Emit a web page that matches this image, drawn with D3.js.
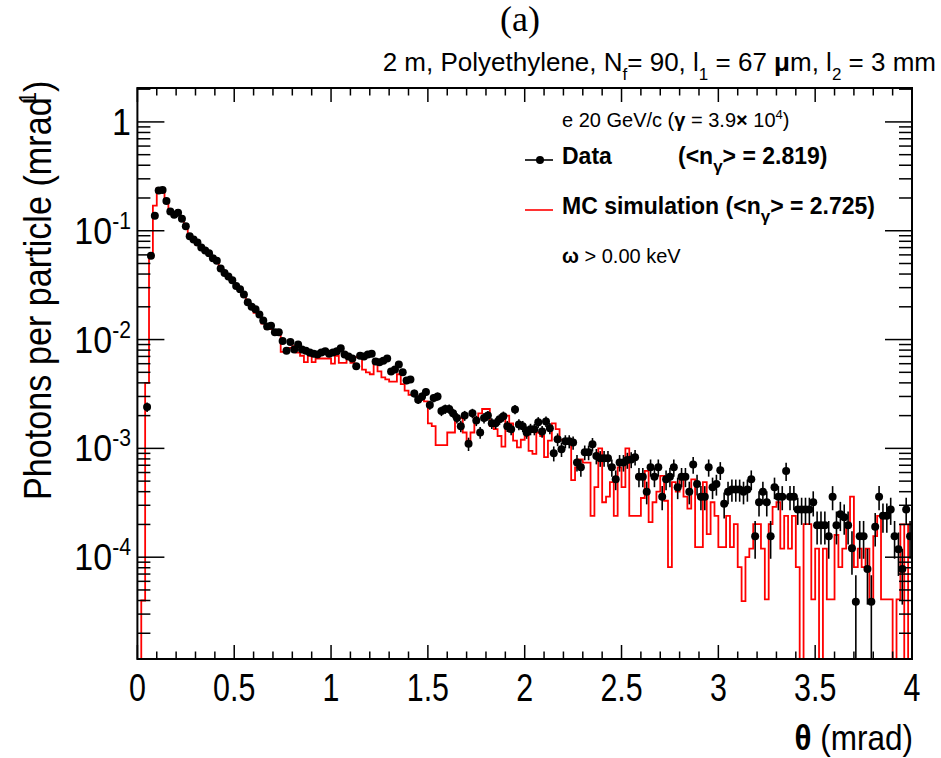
<!DOCTYPE html>
<html><head><meta charset="utf-8">
<script src="https://cdn.jsdelivr.net/npm/d3@7/dist/d3.min.js"></script>
<style>
body{margin:0;background:#fff}
svg{display:block}
text{font-family:"Liberation Sans",Arial,Helvetica,sans-serif;fill:#000}
</style>
</head><body>
<svg id="chart" width="941" height="758"></svg>
<script>
// ---------------- DATA ----------------
const binWidth = 0.02;            // mrad
const thetaRange = [0, 4];        // mrad
const yRange = [1.16e-5, 2.05];

// Data: photons per particle (mrad^-1), 200 bins of 0.02 mrad
const dataValues = [
0,0,0.0024,0.059,0.137,0.234,0.237,0.188,0.150,0.140,
0.146,0.129,0.110,0.089,0.083,0.078,0.070,0.066,0.062,0.056,
0.053,0.045,0.041,0.038,0.035,0.031,0.029,0.026,0.022,0.020,
0.019,0.017,0.015,0.0132,0.0134,0.0117,0.0117,0.0097,0.0079,0.0095,
0.0081,0.0090,0.0081,0.0079,0.0076,0.0074,0.0073,0.0076,0.0078,0.0074,
0.0076,0.0078,0.0083,0.0073,0.0070,0.0067,0.0057,0.0071,0.0070,0.0073,
0.0074,0.0063,0.0062,0.0064,0.0067,0.0051,0.0053,0.0059,0.0050,0.0042,
0.0043,0.0032,0.0028,0.0030,0.0033,0.0025,0.0029,0.0030,0.0022,0.0023,
0.0023,0.0021,0.0019,0.0016,0.0020,0.0011,0.0021,0.0018,0.0014,0.0019,
0.0020,0.0017,0.0017,0.00185,0.00197,0.00160,0.00150,0.00228,0.00166,0.00160,
0.00140,0.00150,0.00150,0.00174,0.00143,0.00177,0.00153,0.00090,0.00121,0.00098,
0.00116,0.00116,0.00113,0.00074,0.00067,0.00092,0.00092,0.00109,0.00085,0.00081,
0.00081,0.00081,0.00067,0.00052,0.00074,0.00074,0.00078,0.00079,0.00083,0.00055,
0.00055,0.00040,0.00067,0.00055,0.00067,0.00036,0.00052,0.00055,0.00067,0.00044,
0.00055,0.00055,0.00040,0.00071,0.00047,0.00036,0.00036,0.00067,0.00044,0.00047,
0.00063,0.00031,0.00040,0.00042,0.00042,0.00042,0.00040,0.00042,0.00052,0.000156,
0.00032,0.00040,0.00032,0.000156,0.00044,0.00036,0.00036,0.00062,0.00036,0.00036,
0.000275,0.000275,0.000275,0.000275,0.00032,0.000197,0.000197,0.000197,0.000156,0.00036,
0.000197,0.000248,0.000233,0.000197,0.000121,0.000039,0.000156,0.000156,0.000078,0.000039,
0.00019,0.00036,0.00024,0.00024,0.000275,0.000156,0.000118,0.000078,0.000275,0.000156
];

// Relative statistical error of each data bin
const dataRelErr = [
0,0,0.10,0.02,0.013,0.01,0.01,0.011,0.012,0.013,
0.012,0.013,0.014,0.016,0.016,0.017,0.018,0.018,0.019,0.02,
0.02,0.022,0.023,0.024,0.025,0.027,0.028,0.029,0.032,0.033,
0.034,0.036,0.038,0.041,0.041,0.043,0.043,0.048,0.053,0.048,
0.052,0.05,0.052,0.053,0.054,0.055,0.055,0.054,0.053,0.055,
0.054,0.053,0.052,0.055,0.056,0.057,0.062,0.056,0.056,0.055,
0.055,0.059,0.06,0.059,0.057,0.066,0.065,0.061,0.066,0.073,
0.072,0.083,0.089,0.086,0.082,0.094,0.087,0.086,0.1,0.098,
0.098,0.1,0.11,0.12,0.105,0.14,0.1,0.11,0.125,0.11,
0.105,0.114,0.114,0.11,0.106,0.117,0.121,0.098,0.115,0.117,
0.126,0.121,0.121,0.113,0.124,0.112,0.12,0.157,0.135,0.15,
0.138,0.138,0.14,0.173,0.18,0.155,0.155,0.142,0.161,0.165,
0.165,0.165,0.18,0.206,0.173,0.173,0.168,0.167,0.163,0.2,
0.2,0.235,0.18,0.2,0.18,0.25,0.206,0.2,0.18,0.224,
0.2,0.2,0.235,0.176,0.217,0.25,0.25,0.18,0.224,0.217,
0.187,0.267,0.235,0.23,0.23,0.23,0.235,0.23,0.206,0.38,
0.26,0.235,0.26,0.38,0.224,0.25,0.25,0.19,0.25,0.25,
0.28,0.28,0.28,0.28,0.26,0.335,0.335,0.335,0.38,0.25,
0.335,0.3,0.31,0.335,0.43,0.75,0.38,0.38,0.53,0.75,
0.34,0.25,0.3,0.3,0.28,0.38,0.43,0.53,0.28,0.38
];

// MC simulation, same binning
const mcValues = [
0,4.0e-5,0.0040,0.060,0.17,0.246,0.243,0.18,0.153,0.145,
0.145,0.131,0.109,0.089,0.081,0.074,0.069,0.067,0.060,0.054,
0.051,0.044,0.040,0.038,0.034,0.031,0.029,0.025,0.022,0.020,
0.0176,0.0173,0.0140,0.0125,0.0125,0.0113,0.0111,0.0077,0.0077,0.0084,
0.0087,0.0076,0.0071,0.0062,0.0071,0.0062,0.0067,0.0067,0.0067,0.0067,
0.0060,0.0071,0.0061,0.0061,0.0067,0.0061,0.0069,0.0069,0.0053,0.0050,
0.0048,0.0060,0.0051,0.0045,0.0043,0.0041,0.0041,0.0048,0.0039,0.0034,
0.0031,0.0031,0.0030,0.0028,0.0027,0.0017,0.0016,0.00107,0.00107,0.00107,
0.0014,0.0014,0.0019,0.0019,0.0014,0.0011,0.0014,0.0019,0.0021,0.0023,
0.0023,0.0016,0.0015,0.0013,0.00104,0.0020,0.0017,0.00118,0.00102,0.0012,
0.0013,0.00095,0.00089,0.0014,0.0013,0.00083,0.00118,0.0017,0.0015,0.0012,
0.0012,0.0012,0.00051,0.00067,0.00079,0.00074,0.00074,0.00024,0.00044,0.00100,
0.00032,0.00036,0.00049,0.00024,0.00067,0.00044,0.00100,0.00024,0.00024,0.00024,
0.00035,0.00062,0.00021,0.00032,0.00040,0.00056,0.00033,0.000081,0.00049,0.00040,
0.00052,0.00036,0.00028,0.00052,0.000124,0.000124,0.00049,0.000163,0.00032,0.00024,
0.000124,0.000124,0.00024,0.000124,0.000201,0.000081,0.0000395,0.00010,0.00012,0.000201,
0.000201,0.00012,0.000041,0.000201,0.00029,0.00032,0.00012,0.00024,0.00012,0.00024,
0.000081,0,0.000201,0.000201,0.000041,0.00012,0,0.00012,0.000041,0.000041,
0.00016,0.000081,0.00012,0.0002,0.00036,0.000081,0.00012,0.000081,0.00012,0.000041,
0.000156,0.00024,0.000041,0.000041,0.000041,0,0.000041,0.0002,0,0.0002
];

const xTickValues = [0, 0.5, 1, 1.5, 2, 2.5, 3, 3.5, 4];
const xTickLabels = ["0", "0.5", "1", "1.5", "2", "2.5", "3", "3.5", "4"];
const yMajorExponents = [0, -1, -2, -3, -4];

// ---------------- LAYOUT ----------------
const L = 137.4, R = 912, T = 88, B = 659;
const svg = d3.select("#chart");
const x = d3.scaleLinear().domain(thetaRange).range([L, R]);
const y = d3.scaleLog().domain(yRange).range([B, T]);
const yc = v => (v > 0 ? Math.max(T, Math.min(B, y(v))) : B);

svg.append("defs").append("clipPath").attr("id", "plotclip")
  .append("rect").attr("x", L).attr("y", T).attr("width", R - L).attr("height", B - T);

const plot = svg.append("g").attr("clip-path", "url(#plotclip)");

// MC histogram (step)
const pts = [[x(thetaRange[0]), B]];
mcValues.forEach((v, i) => {
  const yy = yc(v);
  pts.push([x(i * binWidth), yy]);
  pts.push([x((i + 1) * binWidth), yy]);
});
pts.push([x(thetaRange[1]), B]);
plot.append("path").attr("d", d3.line()(pts))
  .attr("fill", "none").attr("stroke", "#ff0000").attr("stroke-width", 1.8)
  .attr("stroke-linejoin", "miter");

// Data error bars and markers
const dataPts = dataValues.map((v, i) => ({ c: (i + 0.5) * binWidth, v, e: v * dataRelErr[i] }))
  .filter(d => d.v > 0);
plot.selectAll("line.err").data(dataPts).enter().append("line")
  .attr("x1", d => x(d.c)).attr("x2", d => x(d.c))
  .attr("y1", d => yc(d.v + d.e))
  .attr("y2", d => (d.v - d.e > 0 ? yc(d.v - d.e) : B))
  .attr("stroke", "#000").attr("stroke-width", 1.6);
plot.selectAll("circle.pt").data(dataPts).enter().append("circle")
  .attr("cx", d => x(d.c)).attr("cy", d => y(d.v)).attr("r", 4).attr("fill", "#000");

// Frame
svg.append("rect").attr("x", L).attr("y", T).attr("width", R - L).attr("height", B - T)
  .attr("fill", "none").attr("stroke", "#000").attr("stroke-width", 2);

// X ticks (bottom & top)
const ax = svg.append("g").attr("stroke", "#000").attr("stroke-width", 1.5);
const xMinor = d3.range(0, 41).map(k => k / 10);
xMinor.forEach(t => {
  const major = xTickValues.some(m => Math.abs(m - t) < 1e-9);
  const len = major ? 14 : 7.5;
  ax.append("line").attr("x1", x(t)).attr("x2", x(t)).attr("y1", B).attr("y2", B - len);
  ax.append("line").attr("x1", x(t)).attr("x2", x(t)).attr("y1", T).attr("y2", T + len);
});
// Y ticks (left & right)
const yMinor = [];
for (let e = -5; e <= 0; e++) for (let k = 2; k <= 9; k++) {
  const v = k * Math.pow(10, e);
  if (v >= yRange[0] && v <= yRange[1]) yMinor.push(v);
}
yMinor.forEach(v => {
  ax.append("line").attr("x1", L).attr("x2", L + 13).attr("y1", y(v)).attr("y2", y(v));
  ax.append("line").attr("x1", R).attr("x2", R - 13).attr("y1", y(v)).attr("y2", y(v));
});
yMajorExponents.forEach(e => {
  const v = Math.pow(10, e);
  ax.append("line").attr("x1", L).attr("x2", L + 27).attr("y1", y(v)).attr("y2", y(v));
  ax.append("line").attr("x1", R).attr("x2", R - 27).attr("y1", y(v)).attr("y2", y(v));
});

// X tick labels
xTickValues.forEach((t, i) => {
  svg.append("text").attr("transform", `translate(${x(t)},701) scale(0.8,1)`)
    .attr("text-anchor", "middle").attr("font-size", 38).text(xTickLabels[i]);
});

// Y tick labels
yMajorExponents.forEach(e => {
  const yy = y(Math.pow(10, e));
  const t = svg.append("text").attr("transform", `translate(131,${yy + 13}) scale(0.92,1)`)
    .attr("text-anchor", "end").attr("font-size", 37);
  if (e === 0) { t.text("1"); }
  else {
    t.append("tspan").text("10");
    t.append("tspan").attr("dy", -15).attr("font-size", 23).text("-" + (-e));
  }
});

// Axis titles
const yt = svg.append("text").attr("transform", "translate(51,500) rotate(-90) scale(0.9,1)")
  .attr("font-size", 38).attr("text-anchor", "start");
yt.append("tspan").text("Photons per particle (mrad");
yt.append("tspan").attr("dy", -15).attr("dx", -7).attr("font-size", 23).text("1");
yt.append("tspan").attr("dy", 15).text(")");

const xt = svg.append("text").attr("transform", "translate(913,750) scale(0.9,1)")
  .attr("text-anchor", "end").attr("font-size", 35);
xt.append("tspan").attr("font-weight", "bold").text("\u03b8");
xt.append("tspan").text(" (mrad)");

// Titles
svg.append("text").attr("x", 520).attr("y", 31).attr("text-anchor", "middle")
  .attr("font-size", 36).style("font-family", "'Liberation Serif','Times New Roman',serif").text("(a)");

const st = svg.append("text").attr("x", 936).attr("y", 71).attr("text-anchor", "end").attr("font-size", 26);
st.append("tspan").text("2 m, Polyethylene, N");
st.append("tspan").attr("dy", 9).attr("font-size", 17).text("f");
st.append("tspan").attr("dy", -9).text("= 90, l");
st.append("tspan").attr("dy", 9).attr("font-size", 17).text("1");
st.append("tspan").attr("dy", -9).text(" = 67 ");
st.append("tspan").attr("font-weight", "bold").text("\u03bc");
st.append("tspan").text("m, l");
st.append("tspan").attr("dy", 9).attr("font-size", 17).text("2");
st.append("tspan").attr("dy", -9).text(" = 3 mm");

// Legend
const lg = svg.append("g");
const l1 = lg.append("text").attr("x", 562).attr("y", 127).attr("font-size", 20);
l1.append("tspan").text("e 20 GeV/c (");
l1.append("tspan").attr("font-weight", "bold").text("\u03b3");
l1.append("tspan").text(" = 3.9");
l1.append("tspan").attr("font-weight", "bold").text("\u00d7");
l1.append("tspan").text(" 10");
l1.append("tspan").attr("dy", -8).attr("font-size", 13).text("4");
l1.append("tspan").attr("dy", 8).text(")");

lg.append("line").attr("x1", 525).attr("x2", 553).attr("y1", 160).attr("y2", 160).attr("stroke", "#000").attr("stroke-width", 1.6);
lg.append("circle").attr("cx", 540).attr("cy", 160).attr("r", 4).attr("fill", "#000");
lg.append("text").attr("x", 562).attr("y", 164).attr("font-size", 23).attr("font-weight", "bold").text("Data");
const l2 = lg.append("text").attr("x", 678).attr("y", 164).attr("font-size", 23).attr("font-weight", "bold");
l2.append("tspan").text("(<n");
l2.append("tspan").attr("dy", 8).attr("font-size", 17).text("\u03b3");
l2.append("tspan").attr("dy", -8).text("> = 2.819)");

lg.append("line").attr("x1", 525).attr("x2", 553).attr("y1", 210).attr("y2", 210).attr("stroke", "#ff0000").attr("stroke-width", 1.6);
const l3 = lg.append("text").attr("x", 562).attr("y", 214).attr("font-size", 23).attr("font-weight", "bold");
l3.append("tspan").text("MC simulation (<n");
l3.append("tspan").attr("dy", 8).attr("font-size", 17).text("\u03b3");
l3.append("tspan").attr("dy", -8).text("> = 2.725)");

const l4 = lg.append("text").attr("x", 562).attr("y", 263).attr("font-size", 20);
l4.append("tspan").attr("font-weight", "bold").text("\u03c9");
l4.append("tspan").text(" > 0.00 keV");
</script>
</body></html>
